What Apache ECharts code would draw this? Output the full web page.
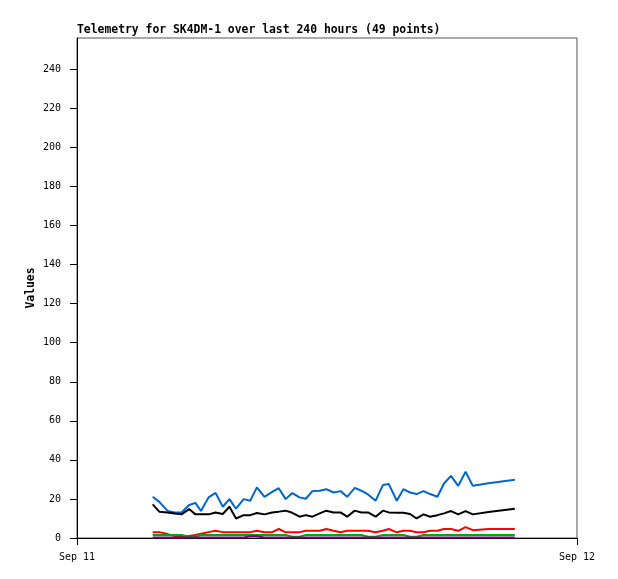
<!DOCTYPE html>
<html>
<head>
<meta charset="utf-8">
<script src="https://cdn.jsdelivr.net/npm/echarts@6/dist/echarts.min.js"></script>
<style>
html,body{margin:0;padding:0;background:#fff;}
#chart{width:618px;height:579px;}
</style>
</head>
<body>
<div id="chart"></div>
<script>
var titleText = 'Telemetry for SK4DM-1 over last 240 hours (49 points)';
var yAxisName = 'Values';
var times = ['03:38','03:57','04:21','04:41','05:01','05:23','05:41','05:57','06:19','06:39',
  '07:00','07:19','07:38','08:00','08:19','08:38','09:00','09:22','09:41','10:01',
  '10:20','10:41','10:59','11:18','11:39','11:58','12:19','12:39','12:58','13:20',
  '13:39','13:58','14:20','14:41','14:58','15:21','15:40','15:59','16:18','16:38',
  '16:57','17:18','17:37','17:57','18:18','18:39','19:00','19:45','21:01'];
var blueVals = [21.1,18.5,13.9,13.1,13.1,16.9,18.0,13.8,20.8,23.1,
  16.0,19.9,15.0,19.9,19.1,25.9,21.1,23.6,25.5,19.9,
  23.0,20.8,20.1,24.0,24.2,25.0,23.3,24.0,21.1,25.7,
  24.2,22.3,19.1,27.1,27.6,19.1,25.0,23.3,22.5,24.0,
  22.5,21.1,27.9,31.8,26.7,33.9,26.7,28.0,29.8];
var blackVals = [17.2,13.5,13.1,12.5,12.1,14.8,12.1,12.1,12.1,13.1,
  12.3,16.0,10.0,11.7,11.7,12.8,12.1,13.1,13.5,14.0,
  12.9,10.9,11.7,10.9,12.6,14.0,13.1,13.1,10.9,14.0,
  13.1,13.1,10.9,14.0,13.1,12.9,12.9,12.3,10.0,12.1,
  10.9,11.7,12.6,13.8,12.1,13.8,12.1,13.3,15.0];
var redVals = [3.0,3.0,2.0,1.0,1.0,1.0,1.5,2.2,3.0,3.7,
  3.0,3.0,3.0,3.0,3.0,3.7,3.0,3.0,4.6,2.9,
  2.9,3.0,3.7,3.7,3.7,4.6,3.7,2.9,3.7,3.7,
  3.7,3.7,2.9,3.7,4.6,2.9,3.7,3.7,2.9,2.9,
  3.7,3.7,4.6,4.6,3.7,5.6,4.0,4.6,4.6];
var greenVals = [1.5,1.5,1.5,1.5,1.5,0.7,0.7,1.5,1.5,1.5,
  1.5,1.5,1.5,1.5,1.5,1.5,1.5,1.5,1.5,1.5,
  0.7,0.7,1.5,1.5,1.5,1.5,1.5,1.5,1.5,1.5,
  1.5,0.7,0.7,1.5,1.5,1.5,1.5,0.7,0.7,1.5,
  1.5,1.5,1.5,1.5,1.5,1.5,1.5,1.5,1.5];
var purpleVals = [0.3,0.3,0.3,0.3,0.3,0.3,0.3,0.3,0.3,0.3,
  0.3,0.3,0.3,0.3,0.9,0.9,0.3,0.3,0.3,0.3,
  0.3,0.3,0.3,0.3,0.3,0.3,0.3,0.3,0.3,0.3,
  0.3,0.3,0.3,0.3,0.3,0.3,0.3,0.3,0.3,0.3,
  0.3,0.3,0.3,0.3,0.3,0.3,0.3,0.3,0.3];
var xTickValues = [0, 1440];
var xTickLabels = ['Sep 11', 'Sep 12'];
var yTickValues = [0,20,40,60,80,100,120,140,160,180,200,220,240];

function toMin(t){var p=t.split(':');return (+p[0])*60+(+p[1]);}
function pairs(vals){return vals.map(function(v,i){return [toMin(times[i]), v];});}

var FONT = '"DejaVu Sans Mono", monospace';
var chart = echarts.init(document.getElementById('chart'), null, {renderer:'canvas'});
function mk(name, vals, color){
  return {name:name, type:'line', data:pairs(vals), showSymbol:false, symbol:'none',
    lineStyle:{color:color, width:2}, itemStyle:{color:color}, animation:false};
}
chart.setOption({
  animation:false,
  backgroundColor:'#fff',
  title:{text:titleText, left:77, top:25, padding:0,
    textStyle:{fontFamily:FONT, fontSize:11.4, fontWeight:'bold', color:'#000'}},
  grid:{left:77, right:41, top:38, bottom:41, show:true, borderColor:'#555', borderWidth:1, backgroundColor:'#fff'},
  xAxis:{type:'value', min:0, max:1440,
    axisLine:{show:true, lineStyle:{color:'#000', width:1}},
    axisTick:{show:true, length:7, lineStyle:{color:'#000'}, customValues:xTickValues},
    axisLabel:{show:true, margin:14, color:'#000', fontFamily:FONT, fontSize:10,
      customValues:xTickValues,
      formatter:function(v){return xTickLabels[xTickValues.indexOf(v)] || '';}},
    splitLine:{show:false}},
  yAxis:{type:'value', min:0, max:256, name:yAxisName, nameLocation:'middle', nameGap:40,
    nameMoveOverlap:false,
    nameTextStyle:{fontFamily:FONT, fontSize:11.4, fontWeight:'bold', color:'#000'},
    axisLine:{show:true, lineStyle:{color:'#000', width:1}},
    axisTick:{show:true, length:7, lineStyle:{color:'#000'}, customValues:yTickValues},
    axisLabel:{show:true, margin:16, color:'#000', fontFamily:FONT, fontSize:10, customValues:yTickValues},
    splitLine:{show:false}},
  series:[
    mk('blue', blueVals, '#0066cc'),
    mk('black', blackVals, '#000000'),
    mk('red', redVals, '#ff0000'),
    mk('green', greenVals, '#00aa00'),
    mk('purple', purpleVals, '#800080')
  ]
});
</script>
</body>
</html>
